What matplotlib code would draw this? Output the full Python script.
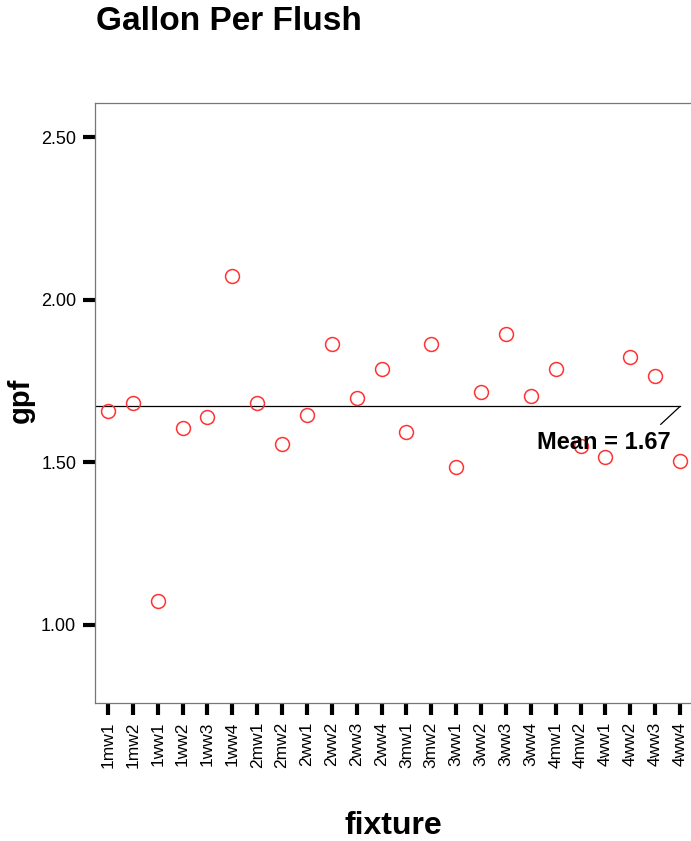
import matplotlib.pyplot as plt
import numpy as np

plt.rcParams['font.family'] = ['Liberation Sans', 'DejaVu Sans']

# fixture ids and measured gallons per flush
fixtures = ['1mw1', '1mw2', '1ww1', '1ww2', '1ww3', '1ww4',
            '2mw1', '2mw2', '2ww1', '2ww2', '2ww3', '2ww4',
            '3mw1', '3mw2', '3ww1', '3ww2', '3ww3', '3ww4',
            '4mw1', '4mw2', '4ww1', '4ww2', '4ww3', '4ww4']
gpf = [1.657, 1.682, 1.075, 1.605, 1.638, 2.072,
       1.682, 1.555, 1.645, 1.863, 1.697, 1.786,
       1.592, 1.863, 1.485, 1.715, 1.894, 1.703,
       1.786, 1.549, 1.515, 1.823, 1.765, 1.503]
mean_gpf = 1.672
yticks = [1.00, 1.50, 2.00, 2.50]

W, H = 691, 841
fig = plt.figure(figsize=(W/100, H/100), dpi=100)
ax = fig.add_axes([95/W, 1 - 703/H, (W - 95)/W, 600/H])

xpos = np.arange(len(fixtures))
ax.plot(xpos, gpf, 'o', ms=10, mfc='none', mec='#ff3333', mew=1.1, zorder=3)

# mean reference line with a small leader down to its label
last = len(fixtures) - 1
ax.plot([-1, last], [mean_gpf, mean_gpf], color='black', lw=0.9, zorder=2)
ax.annotate('', xy=(last, mean_gpf), xytext=(-14, -13), textcoords='offset points',
            arrowprops=dict(arrowstyle='-', color='black', lw=0.9, shrinkA=0, shrinkB=0))
ax.annotate('Mean = 1.67', xy=(last, mean_gpf), xytext=(-7, -31),
            textcoords='offset points', ha='right', va='baseline',
            fontsize=17, fontweight='bold')

ax.set_xlim(-0.52, 23.44)
ax.set_ylim(0.76, 2.605)
ax.set_xticks(xpos)
ax.set_xticklabels(fixtures, rotation=90, fontsize=12.5)
ax.set_yticks(yticks)
ax.set_yticklabels(['%.2f' % v for v in yticks], fontsize=13)
ax.tick_params(axis='both', direction='out', length=8.5, width=3, color='black', pad=5)

for side in ['left', 'top', 'bottom']:
    ax.spines[side].set_color('#777777')
    ax.spines[side].set_linewidth(0.9)
ax.spines['right'].set_visible(False)

fig.text(393/W, 1 - 826/H, 'fixture', fontsize=23, fontweight='bold',
         ha='center', va='center')
fig.text(21/W, 1 - 400/H, 'gpf', fontsize=21, fontweight='bold',
         rotation=90, ha='center', va='center')
fig.text(96/W, 1 - 30/H, 'Gallon Per Flush', fontsize=24, fontweight='bold',
         ha='left', va='baseline')

fig.savefig('out.png', dpi=100)
